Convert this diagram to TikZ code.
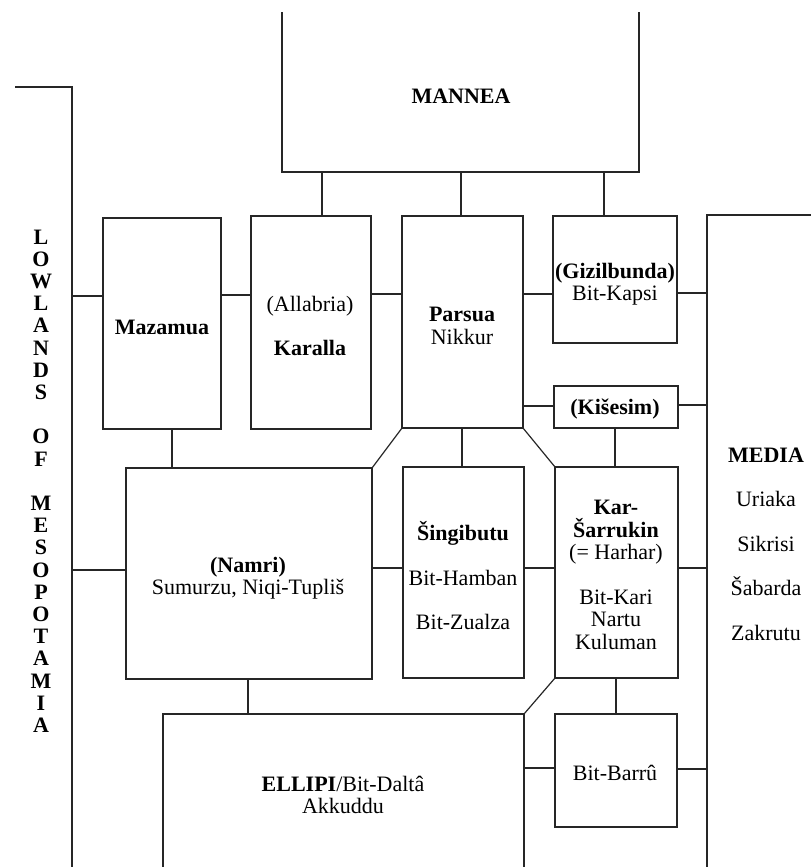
\documentclass[tikz,border=0pt]{standalone}
\usepackage{fontspec}
\setmainfont{Liberation Serif}
\usetikzlibrary{fit}
\begin{document}
\begin{tikzpicture}[x=0.5pt,y=-0.5pt, line width=0.6pt, draw=black!85,
  region/.style={inner sep=0pt, outer sep=0pt},
  box/.style={draw, inner sep=0pt, outer sep=0pt},
  lbl/.style={font=\fontsize{11}{11.25}\selectfont, align=center, inner sep=0pt},
]
\useasboundingbox (0,0) rectangle (811,867);
% boxes
\node[box, fit={(103,218) (221,429)}] (maz) {};
\node[box, fit={(251,216) (371,429)}] (kar) {};
\node[box, fit={(402,216) (523,428)}] (par) {};
\node[box, fit={(553,216) (677,343)}] (giz) {};
\node[box, fit={(554,386) (678,428)}] (kis) {};
\node[box, fit={(126,468) (372,679)}] (nam) {};
\node[box, fit={(403,467) (524,678)}] (sin) {};
\node[box, fit={(555,467) (678,678)}] (kas) {};
\node[box, fit={(555,714) (677,827)}] (bar) {};
% open regions
\node[region, fit={(282,12) (639,172)}] (man) {};
\draw (man.north west) -- (man.south west) -- (man.south east) -- (man.north east);
\node[region, fit={(15,87) (72,867)}] (low) {};
\draw (low.north west) -- (low.north east) -- (low.south east);
\node[region, fit={(707,215) (811,867)}] (med) {};
\draw (med.south west) -- (med.north west) -- (med.north east);
\node[region, fit={(163,714) (524,867)}] (ell) {};
\draw (ell.south west) -- (ell.north west) -- (ell.north east) -- (ell.south east);
% connectors
\draw (low.east |- 0,296) -- (maz.west |- 0,296);
\draw (maz.east |- 0,295) -- (kar.west |- 0,295);
\draw (kar.east |- 0,294) -- (par.west |- 0,294);
\draw (par.east |- 0,294) -- (giz.west |- 0,294);
\draw (giz.east |- 0,293) -- (med.west |- 0,293);
\draw (par.east |- 0,406) -- (kis.west |- 0,406);
\draw (kis.east |- 0,405) -- (med.west |- 0,405);
\draw (man.south -| 322,0) -- (kar.north -| 322,0);
\draw (man.south -| 461,0) -- (par.north -| 461,0);
\draw (man.south -| 604,0) -- (giz.north -| 604,0);
\draw (maz.south -| 172,0) -- (nam.north -| 172,0);
\draw (par.south west) -- (nam.north east);
\draw (par.south -| 462,0) -- (sin.north -| 462,0);
\draw (par.south east) -- (kas.north west);
\draw (kis.south -| 615,0) -- (kas.north -| 615,0);
\draw (low.east |- 0,570) -- (nam.west |- 0,570);
\draw (nam.east |- 0,568) -- (sin.west |- 0,568);
\draw (sin.east |- 0,568) -- (kas.west |- 0,568);
\draw (kas.east |- 0,568) -- (med.west |- 0,568);
\draw (nam.south -| 248,0) -- (ell.north -| 248,0);
\draw (kas.south west) -- (ell.north east);
\draw (kas.south -| 616,0) -- (bar.north -| 616,0);
\draw (ell.east |- 0,768) -- (bar.west |- 0,768);
\draw (bar.east |- 0,769) -- (med.west |- 0,769);
% texts
\node[lbl] (tman) at (461,96) {\textbf{MANNEA}};
\node[lbl] (tmaz) at (162,327) {\textbf{Mazamua}};
\node[lbl] (tkar) at (310,326) {(Allabria)\\[11pt]\textbf{Karalla}};
\node[lbl] (tpar) at (462,326) {\textbf{Parsua}\\Nikkur};
\node[lbl] (tgiz) at (615,284) {\textbf{(Gizilbunda)}\\Bit-Kapsi};
\node[lbl] (tkis) at (615,409) {\textbf{(Kišesim)}};
\node[lbl] (tnam) at (248,578) {\textbf{(Namri)}\\Sumurzu, Niqi-Tupliš};
\node[lbl] (tsin) at (463,576) {\textbf{Šingibutu}\\[11pt]Bit-Hamban\\[11pt]Bit-Zualza};
\node[lbl] (tkas) at (616,575) {\textbf{Kar-}\\\textbf{Šarrukin}\\(= Harhar)\\[11pt]Bit-Kari\\Nartu\\Kuluman};
\node[lbl] (tbar) at (615,773) {Bit-Barrû};
\node[lbl] (tell) at (343,795) {\textbf{ELLIPI}/Bit-Daltâ\\Akkuddu};
\node[lbl] (tmed) at (766,544) {\textbf{MEDIA}\\[11pt]Uriaka\\[11pt]Sikrisi\\[11pt]Šabarda\\[11pt]Zakrutu};
\node[lbl, font=\fontsize{11}{11.1}\selectfont\bfseries] (tlow) at (41,481)
  {L\\O\\W\\L\\A\\N\\D\\S\\[11.1pt]O\\F\\[11.1pt]M\\E\\S\\O\\P\\O\\T\\A\\M\\I\\A};
\end{tikzpicture}
\end{document}
